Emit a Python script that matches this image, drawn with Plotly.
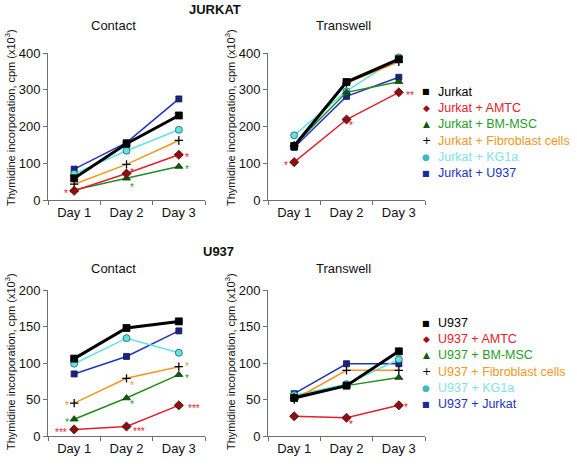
import plotly.graph_objects as go

W, H = 577, 467

days = ["Day 1", "Day 2", "Day 3"]

# ---------------- JURKAT ----------------
jur_contact_jurkat = [59, 153, 230]
jur_contact_amtc = [25, 72, 123]
jur_contact_bmmsc = [27, 59, 91]
jur_contact_fibro = [43, 97, 162]
jur_contact_kg1a = [71, 134, 191]
jur_contact_u937 = [84, 156, 275]

jur_trans_jurkat = [147, 321, 383]
jur_trans_amtc = [103, 219, 293]
jur_trans_bmmsc = [150, 293, 322]
jur_trans_fibro = [148, 318, 376]
jur_trans_kg1a = [176, 296, 388]
jur_trans_u937 = [143, 282, 334]

# ---------------- U937 ----------------
u_contact_u937 = [106, 148, 157]
u_contact_amtc = [9, 13, 42]
u_contact_bmmsc = [23, 52, 84]
u_contact_fibro = [45, 79, 95]
u_contact_kg1a = [99, 134, 114]
u_contact_jurkat = [85, 109, 144]

u_trans_u937 = [52, 69, 116]
u_trans_amtc = [27, 25, 42]
u_trans_bmmsc = [54, 69, 80]
u_trans_fibro = [50, 90, 90]
u_trans_kg1a = [56, 71, 105]
u_trans_jurkat = [58, 99, 99]

jurkat_names = ["Jurkat", "Jurkat + AMTC", "Jurkat + BM-MSC",
                "Jurkat + Fibroblast cells", "Jurkat + KG1a", "Jurkat + U937"]
u937_names = ["U937", "U937 + AMTC", "U937 + BM-MSC",
              "U937 + Fibroblast cells", "U937 + KG1a", "U937 + Jurkat"]

FONT = "Arial, Liberation Sans, sans-serif"

# style per series slot: (line color, line width, marker symbol, fill, outline, size, text color, legend glyph, glyph color)
styles = [
    ("#000000", 3.0, "square", "#000000", "#000000", 7, "#000000", "\u25a0", "#000000"),
    ("#e3202e", 1.5, "diamond", "#8b1010", "#5a0000", 7, "#e3202e", "\u25c6", "#a01010"),
    ("#1f8f1f", 1.5, "triangle-up", "#0b5e0b", "#063806", 7, "#1fa01f", "\u25b2", "#0b5e0b"),
    ("#f5961e", 1.5, "cross-thin", "#000000", "#000000", 6, "#f5961e", "+", "#000000"),
    ("#5fe3e3", 1.5, "circle", "#5fe3e3", "#1e5c6a", 7, "#7fe4e4", "\u25cf", "#3fb8c0"),
    ("#2233c0", 1.5, "square", "#1a237e", "#101860", 6, "#2233c0", "\u25a0", "#1a2a9e"),
]

panels = [
    ("x", "y", [jur_contact_jurkat, jur_contact_amtc, jur_contact_bmmsc, jur_contact_fibro, jur_contact_kg1a, jur_contact_u937]),
    ("x2", "y2", [jur_trans_jurkat, jur_trans_amtc, jur_trans_bmmsc, jur_trans_fibro, jur_trans_kg1a, jur_trans_u937]),
    ("x3", "y3", [u_contact_u937, u_contact_amtc, u_contact_bmmsc, u_contact_fibro, u_contact_kg1a, u_contact_jurkat]),
    ("x4", "y4", [u_trans_u937, u_trans_amtc, u_trans_bmmsc, u_trans_fibro, u_trans_kg1a, u_trans_jurkat]),
]
panel_names = [jurkat_names, jurkat_names, u937_names, u937_names]

fig = go.Figure()
draw_order = [5, 4, 3, 2, 1, 0]
for (xa, ya, series), names in zip(panels, panel_names):
    for i in draw_order:
        lc, lw, sym, fill, edge, sz, tc, gl, gc = styles[i]
        lwm = 1.3 if sym == "cross-thin" else 0.8
        fig.add_trace(go.Scatter(
            x=days, y=series[i], xaxis=xa, yaxis=ya, mode="lines+markers",
            name=names[i],
            line=dict(color=lc, width=lw),
            marker=dict(symbol=sym, color=fill, size=sz,
                        line=dict(color=edge, width=lwm)),
            showlegend=False))

def px_x(p):
    return p / W

def px_y(p):
    return 1 - p / H

axis_common = dict(showgrid=False, zeroline=False, showline=True, automargin=False,
                   linecolor="#707070", linewidth=1, ticks="outside",
                   ticklen=4, tickcolor="#707070",
                   tickfont=dict(family=FONT, size=13, color="#111111"))

layout = dict(
    template="none",
    width=W, height=H, margin=dict(l=0, r=0, t=0, b=0, pad=0, autoexpand=False),
    paper_bgcolor="white", plot_bgcolor="white", showlegend=False,
    font=dict(family=FONT, color="#111111"),
)

xdom_left = [px_x(48), px_x(205)]
xdom_right = [px_x(268), px_x(425)]
ydom_top = [px_y(200), px_y(53)]
ydom_bot = [px_y(436), px_y(290)]

specs = [
    ("xaxis", "yaxis", xdom_left, ydom_top, "y", "x", [0, 400], 100),
    ("xaxis2", "yaxis2", xdom_right, ydom_top, "y2", "x2", [0, 400], 100),
    ("xaxis3", "yaxis3", xdom_left, ydom_bot, "y3", "x3", [0, 200], 50),
    ("xaxis4", "yaxis4", xdom_right, ydom_bot, "y4", "x4", [0, 200], 50),
]
for xk, yk, xd, yd, anchx, anchy, yr, dt in specs:
    layout[xk] = dict(axis_common, domain=xd, anchor=anchx, type="category",
                      categoryorder="array", categoryarray=days,
                      range=[-0.5, 2.5], tickson="boundaries")
    layout[yk] = dict(axis_common, domain=yd, anchor=anchy, range=yr,
                      dtick=dt, tick0=0)

fig.update_layout(**layout)

# titles
ytitle = "Thymidine incorporation, cpm (x10<sup>3</sup>)"
texts = [
    ("<b>JURKAT</b>", 215, 9, 13, 0),
    ("Contact", 113, 26, 13, 0),
    ("Transwell", 343, 26, 13, 0),
    ("<b>U937</b>", 218, 252, 13, 0),
    ("Contact", 113, 268, 13, 0),
    ("Transwell", 343, 268, 13, 0),
    (ytitle, 10, 118, 11, -90),
    (ytitle, 230, 118, 11, -90),
    (ytitle, 10, 362, 11, -90),
    (ytitle, 230, 362, 11, -90),
]
for t, x, y, s, ang in texts:
    fig.add_annotation(text=t, x=px_x(x), y=px_y(y), xref="paper", yref="paper",
                       showarrow=False, textangle=ang, xanchor="center", yanchor="middle",
                       font=dict(family=FONT, size=s, color="#111111"))

# legends (glyph + coloured label), one block per cell line
legend_blocks = [(jurkat_names, 92), (u937_names, 323)]
for names, y0 in legend_blocks:
    for i, nm in enumerate(names):
        lc, lw, sym, fill, edge, sz, tc, gl, gc = styles[i]
        yy = y0 + i * 16.2
        gsize = 11 if gl == "+" else (8 if gl in ("\u25a0",) else 9)
        fig.add_annotation(text=gl, x=px_x(426), y=px_y(yy), xref="paper", yref="paper",
                           showarrow=False, xanchor="center", yanchor="middle",
                           font=dict(family="DejaVu Sans", size=gsize, color=gc))
        fig.add_annotation(text=nm, x=px_x(436), y=px_y(yy), xref="paper", yref="paper",
                           showarrow=False, xanchor="left", yanchor="middle",
                           font=dict(family=FONT, size=12.5, color=tc))

# significance marks: (panel index, series index, day index, label, colour, xshift, yshift)
RED, GREEN, ORANGE = "#e3202e", "#1fa01f", "#f5961e"
stars = [
    (0, 1, 0, "*", RED, -8, 0),
    (0, 1, 1, "*", RED, 5, 4),
    (0, 1, 2, "*", RED, 8, 0),
    (0, 2, 1, "*", GREEN, 5, -6),
    (0, 2, 2, "*", GREEN, 8, 0),
    (1, 1, 0, "*", RED, -8, 0),
    (1, 1, 1, "*", RED, 4, -3),
    (1, 1, 2, "**", RED, 11, 0),
    (2, 3, 0, "*", ORANGE, -7, 1),
    (2, 3, 1, "*", ORANGE, 5, -4),
    (2, 3, 2, "*", ORANGE, 8, 3),
    (2, 2, 0, "*", GREEN, -7, 0),
    (2, 2, 1, "*", GREEN, 5, -3),
    (2, 2, 2, "*", GREEN, 8, -1),
    (2, 1, 0, "***", RED, -13, 0),
    (2, 1, 1, "***", RED, 12, -2),
    (2, 1, 2, "***", RED, 15, 0),
    (3, 1, 1, "*", RED, 4, -4),
    (3, 1, 2, "*", RED, 7, 1),
]
for p, si, di, lab, col, xs, ys in stars:
    xa, ya, series = panels[p]
    fig.add_annotation(text=lab, x=days[di], y=series[si][di], xref=xa, yref=ya,
                       showarrow=False, xshift=xs, yshift=ys - 3,
                       font=dict(family=FONT, size=10, color=col))

fig.write_html("out.html", config={"displayModeBar": False},
               post_script="document.body.style.margin='0';document.body.style.overflow='hidden';")
